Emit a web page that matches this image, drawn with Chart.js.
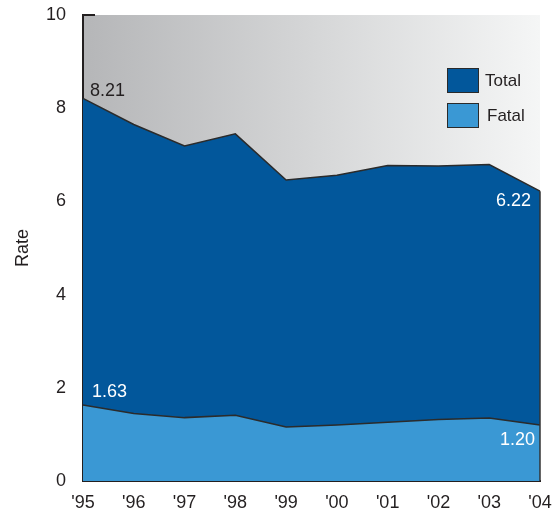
<!DOCTYPE html>
<html>
<head>
<meta charset="utf-8">
<script src="https://cdn.jsdelivr.net/npm/chart.js@4.4.0/dist/chart.umd.min.js"></script>
<style>
  html, body { margin: 0; padding: 0; background: #fff; }
  #wrap { width: 556px; height: 512px; }
</style>
</head>
<body>
<div id="wrap"><canvas id="rateChart" width="556" height="512"></canvas></div>
<script>
var years = ["'95", "'96", "'97", "'98", "'99", "'00", "'01", "'02", "'03", "'04"];
var totalRate = [8.21, 7.65, 7.19, 7.45, 6.46, 6.56, 6.77, 6.76, 6.79, 6.22];
var fatalRate = [1.63, 1.45, 1.36, 1.41, 1.16, 1.20, 1.26, 1.32, 1.35, 1.20];
var seriesNames = ["Total", "Fatal"];
var seriesColors = ["#02579b", "#3a98d4"];

var ink = "#231f20";
var font = "Liberation Sans, Arial, sans-serif";

// grey-to-white wash behind the plot
var bgPlugin = {
  id: "bgWash",
  beforeDraw: function (chart) {
    var a = chart.chartArea, ctx = chart.ctx;
    var g = ctx.createLinearGradient(a.left, 0, a.right, 0);
    g.addColorStop(0, "#b5b6b8");
    g.addColorStop(1, "#f5f6f6");
    ctx.save();
    ctx.fillStyle = g;
    ctx.fillRect(a.left, a.top, a.right - a.left, a.bottom - a.top);
    ctx.restore();
  }
};

// end labels, right edge, top tick and the legend
var extrasPlugin = {
  id: "extras",
  afterDatasetsDraw: function (chart) {
    var ctx = chart.ctx, a = chart.chartArea;
    var tot = chart.getDatasetMeta(0).data;
    var fat = chart.getDatasetMeta(1).data;
    var last = tot.length - 1;

    ctx.save();
    ctx.strokeStyle = "#333";
    ctx.lineWidth = 1.5;
    ctx.beginPath();
    ctx.moveTo(tot[last].x, tot[last].y);
    ctx.lineTo(tot[last].x, a.bottom);
    ctx.stroke();

    ctx.strokeStyle = ink;
    ctx.lineWidth = 2;
    ctx.beginPath();
    ctx.moveTo(a.left, a.top);
    ctx.lineTo(a.left + 12, a.top);
    ctx.stroke();

    ctx.font = "18px " + font;
    ctx.textAlign = "left";
    ctx.textBaseline = "bottom";
    ctx.fillStyle = ink;
    ctx.fillText(totalRate[0].toFixed(2), tot[0].x + 7, tot[0].y + 2);
    ctx.fillStyle = "#fff";
    ctx.fillText(fatalRate[0].toFixed(2), fat[0].x + 9, fat[0].y - 4);
    ctx.textAlign = "right";
    ctx.textBaseline = "top";
    ctx.fillText(totalRate[last].toFixed(2), tot[last].x - 9, tot[last].y + 1);
    ctx.fillText(fatalRate[last].toFixed(2), fat[last].x - 5, fat[last].y + 6);

    // legend
    ctx.font = "17px " + font;
    ctx.textAlign = "left";
    ctx.textBaseline = "middle";
    ctx.lineWidth = 1;
    for (var i = 0; i < seriesNames.length; i++) {
      var y = 68 + i * 35;
      ctx.fillStyle = seriesColors[i];
      ctx.fillRect(447, y, 31, 24);
      ctx.strokeStyle = "#2a2a2a";
      ctx.strokeRect(447.5, y + 0.5, 31, 24);
      ctx.fillStyle = ink;
      ctx.fillText(seriesNames[i], 485 + i * 2, y + 13);
    }
    ctx.restore();
  }
};

new Chart(document.getElementById("rateChart"), {
  type: "line",
  data: {
    labels: years,
    datasets: [
      {
        label: seriesNames[0],
        data: totalRate,
        backgroundColor: seriesColors[0],
        borderColor: "#2b2b2b",
        borderWidth: 1.5,
        fill: "origin",
        pointRadius: 0,
        tension: 0,
        order: 2
      },
      {
        label: seriesNames[1],
        data: fatalRate,
        backgroundColor: seriesColors[1],
        borderColor: "#2b2b2b",
        borderWidth: 1.5,
        fill: "origin",
        pointRadius: 0,
        tension: 0,
        order: 1
      }
    ]
  },
  options: {
    responsive: false,
    animation: false,
    layout: { padding: { top: 15, right: 16, left: 0, bottom: 0 } },
    plugins: {
      legend: { display: false },
      tooltip: { enabled: false }
    },
    scales: {
      x: {
        grid: { display: false },
        border: { display: true, color: ink, width: 2 },
        ticks: { color: ink, font: { family: font, size: 18 }, padding: 3, maxRotation: 0, autoSkip: false },
        afterFit: function (s) {
          s.height = 31;
          s.paddingLeft = 0;
          s.paddingRight = 0;
        }
      },
      y: {
        min: 0,
        max: 10,
        grid: { display: false },
        border: { display: true, color: ink, width: 2 },
        ticks: { stepSize: 2, color: ink, font: { family: font, size: 18 }, padding: 9 },
        title: { display: true, text: "Rate", color: ink, font: { family: font, size: 18 }, padding: { top: 12 } },
        afterFit: function (s) {
          s.width = 83;
          s.paddingTop = 0;
          s.paddingBottom = 0;
        }
      }
    }
  },
  plugins: [bgPlugin, extrasPlugin]
});
</script>
</body>
</html>
